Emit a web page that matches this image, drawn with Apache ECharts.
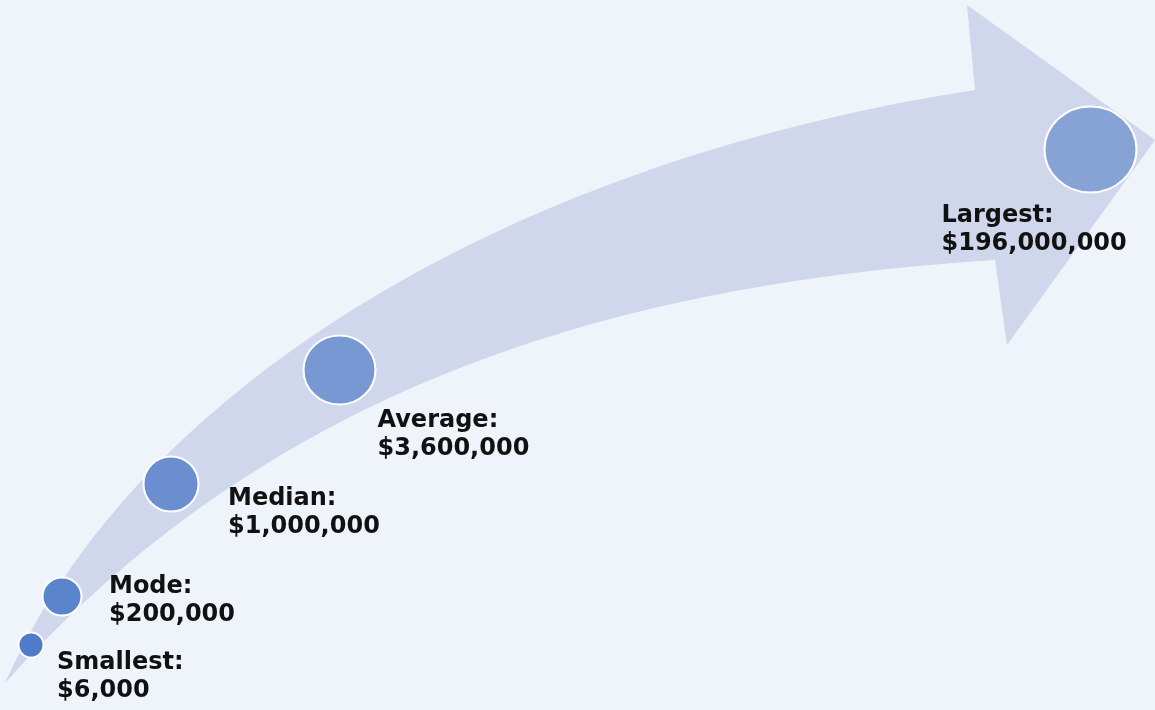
<!DOCTYPE html>
<html>
<head>
<meta charset="utf-8">
<script src="https://cdn.jsdelivr.net/npm/echarts@6/dist/echarts.min.js"></script>
<style>
html,body{margin:0;padding:0;background:#eff4fb;}
#chart{width:1155px;height:710px;}
</style>
</head>
<body>
<div id="chart"></div>
<script>
// ---- data ----
const categories = ["Smallest", "Mode", "Median", "Average", "Largest"];
const amounts = [6000, 200000, 1000000, 3600000, 196000000];
// positions of the bubbles along the arrow (layout coordinates)
const posX = [31, 62, 171, 339.5, 1090.5];
const posY = [645, 596.5, 484, 370, 149.5];

// ---- layout / style ----
const bubbleSize = [[25, 25], [39, 38], [55, 55], [72, 69], [92, 86]];
const bubbleColor = ["#4f7bc9", "#5a84cc", "#6a8ecf", "#7898d3", "#87a3d6"];
const labelOffset = [[26, 4], [47, -24], [57, 1], [38, 37], [-149, 52]];

// arrow outline: cubic Bezier control points (layout coordinates)
const arrowUpperCtrl = [[5,683],[140,380],[520,160],[975,90]];
const arrowHead = [[967,5],[1155,140],[1007,345]];
const arrowLowerCtrl = [[995,260],[600,285],[265,393],[5,683]];

function bezier(c, steps) {
  const out = [];
  for (let s = 0; s <= steps; s++) {
    const t = s / steps, u = 1 - t;
    const a = u*u*u, b = 3*u*u*t, d = 3*u*t*t, e = t*t*t;
    out.push([a*c[0][0] + b*c[1][0] + d*c[2][0] + e*c[3][0],
              a*c[0][1] + b*c[1][1] + d*c[2][1] + e*c[3][1]]);
  }
  return out;
}
const arrowOutline = bezier(arrowUpperCtrl, 80).concat(arrowHead, bezier(arrowLowerCtrl, 80));

function fmt(v) { return "$" + v.toLocaleString("en-US"); }

const chart = echarts.init(document.getElementById("chart"), null, {renderer: "canvas"});
chart.setOption({
  backgroundColor: "#eff4fb",
  animation: false,
  grid: {left: 0, right: 0, top: 0, bottom: 0},
  xAxis: {type: "value", min: 0, max: 1155, show: false},
  yAxis: {type: "value", min: 0, max: 710, inverse: true, show: false},
  series: [
    {
      type: "custom",
      z: 1,
      silent: true,
      data: [[0, 0]],
      renderItem: function (params, api) {
        const pts = arrowOutline.map(p => api.coord(p));
        return {type: "polygon", shape: {points: pts}, style: {fill: "#d0d6eb", stroke: null}};
      }
    },
    {
      type: "scatter",
      z: 2,
      data: categories.map((c, i) => ({
        name: c,
        value: [posX[i], posY[i], amounts[i]],
        symbolSize: bubbleSize[i],
        itemStyle: {color: bubbleColor[i], borderColor: "#ffffff", borderWidth: 2, opacity: 1},
        label: {offset: labelOffset[i]}
      })),
      label: {
        show: true,
        position: "inside",
        align: "left",
        verticalAlign: "top",
        formatter: p => p.name + ":\n" + fmt(p.value[2]),
        fontFamily: "DejaVu Sans",
        fontWeight: "bold",
        fontSize: 24,
        lineHeight: 28,
        color: "#111111"
      },
      emphasis: {disabled: true}
    }
  ]
});
</script>
</body>
</html>
